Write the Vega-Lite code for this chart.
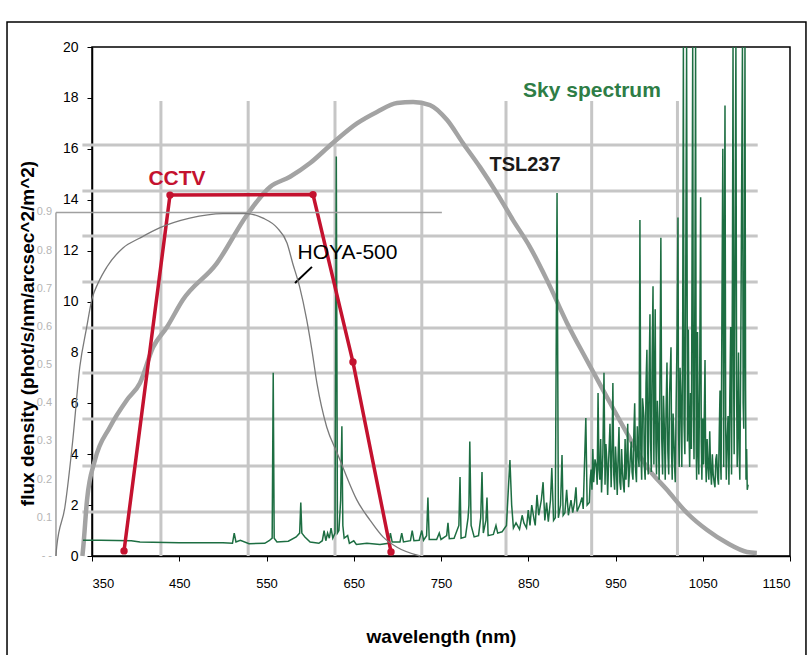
{
  "$schema": "https://vega.github.io/schema/vega-lite/v6.json",
  "width": 698,
  "height": 509,
  "autosize": {"type": "none"},
  "padding": {"left": 92, "top": 47, "right": 22, "bottom": 99},
  "background": "white",
  "config": {"view": {"stroke": "black", "strokeWidth": 1.5}, "font": "Liberation Sans"},
  "datasets": {
    "border": [{"wl": 252.6, "wl2": 1168.3, "flux": -4.1, "flux2": 20.98}],
    "grid": [
      {"wl": 429, "wl2": 429, "flux": 0, "flux2": 17.88},
      {"wl": 529, "wl2": 529, "flux": 0, "flux2": 17.88},
      {"wl": 628.5, "wl2": 628.5, "flux": 0, "flux2": 17.88},
      {"wl": 728, "wl2": 728, "flux": 0, "flux2": 17.88},
      {"wl": 824.5, "wl2": 824.5, "flux": 0, "flux2": 17.88},
      {"wl": 922.7, "wl2": 922.7, "flux": 0, "flux2": 17.88},
      {"wl": 1021, "wl2": 1021, "flux": 0, "flux2": 17.88},
      {"wl": 339, "wl2": 1113, "flux": 1.73, "flux2": 1.73},
      {"wl": 339, "wl2": 1113, "flux": 3.54, "flux2": 3.54},
      {"wl": 339, "wl2": 1113, "flux": 5.38, "flux2": 5.38},
      {"wl": 339, "wl2": 1113, "flux": 7.19, "flux2": 7.19},
      {"wl": 339, "wl2": 1113, "flux": 8.96, "flux2": 8.96},
      {"wl": 339, "wl2": 1113, "flux": 10.77, "flux2": 10.77},
      {"wl": 339, "wl2": 1113, "flux": 12.57, "flux2": 12.57},
      {"wl": 339, "wl2": 1113, "flux": 14.34, "flux2": 14.34},
      {"wl": 339, "wl2": 1113, "flux": 16.15, "flux2": 16.15}
    ],
    "tsl": [
      {"wl": 339, "flux": 0}, {"wl": 340, "flux": 0.35}, {"wl": 344.3, "flux": 2.2}, {"wl": 353.4, "flux": 3.77},
      {"wl": 370.6, "flux": 5.07}, {"wl": 390, "flux": 6.13}, {"wl": 405, "flux": 6.8}, {"wl": 420, "flux": 8.2},
      {"wl": 436, "flux": 9.0}, {"wl": 454, "flux": 10.06}, {"wl": 493, "flux": 11.5}, {"wl": 527.6, "flux": 13.4},
      {"wl": 554, "flux": 14.5}, {"wl": 577, "flux": 14.9}, {"wl": 600, "flux": 15.44}, {"wl": 626, "flux": 16.23},
      {"wl": 653.7, "flux": 17.0}, {"wl": 676.6, "flux": 17.45}, {"wl": 699.6, "flux": 17.8}, {"wl": 718, "flux": 17.84},
      {"wl": 737.4, "flux": 17.72}, {"wl": 757, "flux": 17.13}, {"wl": 775, "flux": 16.23}, {"wl": 794.7, "flux": 15.28},
      {"wl": 814, "flux": 14.26}, {"wl": 832.5, "flux": 13.2}, {"wl": 852, "flux": 12.14}, {"wl": 871.5, "flux": 10.84},
      {"wl": 894.4, "flux": 9.16}, {"wl": 917, "flux": 7.7}, {"wl": 940, "flux": 6.25}, {"wl": 963, "flux": 4.83},
      {"wl": 986, "flux": 3.5}, {"wl": 1009, "flux": 2.6}, {"wl": 1032, "flux": 1.69}, {"wl": 1055, "flux": 1.02},
      {"wl": 1078, "flux": 0.51}, {"wl": 1100.7, "flux": 0.16}, {"wl": 1112, "flux": 0.12}
    ],
    "cctv": [
      {"wl": 386.7, "flux": 0.2}, {"wl": 439.4, "flux": 14.18}, {"wl": 603.3, "flux": 14.2},
      {"wl": 649.1, "flux": 7.62}, {"wl": 692.7, "flux": 0.16}
    ],
    "sky": [
      {"wl": 339.7, "flux": 0.62}, {"wl": 360, "flux": 0.62}, {"wl": 395, "flux": 0.6}, {"wl": 405, "flux": 0.55},
      {"wl": 450, "flux": 0.52}, {"wl": 500, "flux": 0.52}, {"wl": 511, "flux": 0.5}, {"wl": 513, "flux": 0.9},
      {"wl": 515, "flux": 0.55}, {"wl": 520, "flux": 0.62}, {"wl": 530, "flux": 0.48}, {"wl": 548, "flux": 0.5},
      {"wl": 553, "flux": 0.6}, {"wl": 556.5, "flux": 0.7}, {"wl": 557.7, "flux": 7.2}, {"wl": 558.8, "flux": 0.7},
      {"wl": 562, "flux": 0.55}, {"wl": 575, "flux": 0.58}, {"wl": 584, "flux": 0.75}, {"wl": 588, "flux": 0.9},
      {"wl": 589.3, "flux": 2.1}, {"wl": 590.5, "flux": 0.9}, {"wl": 594, "flux": 0.75}, {"wl": 600, "flux": 0.55},
      {"wl": 610, "flux": 0.5}, {"wl": 614, "flux": 0.6}, {"wl": 616, "flux": 1.0}, {"wl": 618, "flux": 0.6},
      {"wl": 620, "flux": 0.9}, {"wl": 622, "flux": 0.7}, {"wl": 624, "flux": 1.1}, {"wl": 626, "flux": 0.7},
      {"wl": 628.5, "flux": 0.9}, {"wl": 630, "flux": 15.7}, {"wl": 631.3, "flux": 0.9}, {"wl": 633, "flux": 1.0},
      {"wl": 635, "flux": 2.2}, {"wl": 636.4, "flux": 5.1}, {"wl": 637.5, "flux": 1.2}, {"wl": 639, "flux": 0.7},
      {"wl": 643, "flux": 0.8}, {"wl": 645, "flux": 0.5}, {"wl": 650, "flux": 0.6}, {"wl": 653, "flux": 0.45},
      {"wl": 665, "flux": 0.5}, {"wl": 680, "flux": 0.45}, {"wl": 690, "flux": 0.5}, {"wl": 692, "flux": 0.9},
      {"wl": 694, "flux": 0.55}, {"wl": 703, "flux": 0.55}, {"wl": 705, "flux": 0.9}, {"wl": 707, "flux": 0.55},
      {"wl": 715, "flux": 0.6}, {"wl": 717, "flux": 1.0}, {"wl": 719, "flux": 0.6}, {"wl": 725, "flux": 0.62},
      {"wl": 728, "flux": 1.0}, {"wl": 730, "flux": 0.62}, {"wl": 733.5, "flux": 0.8}, {"wl": 735, "flux": 2.3},
      {"wl": 736.5, "flux": 0.65}, {"wl": 745, "flux": 0.65}, {"wl": 748, "flux": 0.9}, {"wl": 750, "flux": 0.65},
      {"wl": 756.5, "flux": 0.8}, {"wl": 758, "flux": 1.3}, {"wl": 759.5, "flux": 0.68}, {"wl": 765, "flux": 0.7},
      {"wl": 770.5, "flux": 1.2}, {"wl": 771.8, "flux": 3.1}, {"wl": 773, "flux": 0.7}, {"wl": 778, "flux": 0.75},
      {"wl": 781, "flux": 1.5}, {"wl": 782, "flux": 2.0}, {"wl": 783, "flux": 4.5}, {"wl": 784.5, "flux": 1.2},
      {"wl": 788, "flux": 0.75}, {"wl": 793, "flux": 0.8}, {"wl": 795.5, "flux": 1.5}, {"wl": 797, "flux": 3.3},
      {"wl": 798.5, "flux": 0.9}, {"wl": 801.5, "flux": 1.4}, {"wl": 802.7, "flux": 2.3}, {"wl": 804, "flux": 0.8},
      {"wl": 810, "flux": 0.85}, {"wl": 813, "flux": 1.2}, {"wl": 815, "flux": 0.9}, {"wl": 820, "flux": 0.95},
      {"wl": 825, "flux": 1.2}, {"wl": 827, "flux": 2.5}, {"wl": 829, "flux": 3.77}, {"wl": 831, "flux": 2.0},
      {"wl": 833, "flux": 1.1}, {"wl": 836, "flux": 1.3}, {"wl": 840, "flux": 1.05}, {"wl": 843, "flux": 1.6},
      {"wl": 845, "flux": 1.3}, {"wl": 848, "flux": 1.1}, {"wl": 850, "flux": 1.8}, {"wl": 852, "flux": 1.2},
      {"wl": 854, "flux": 2.0}, {"wl": 856.6, "flux": 1.45}, {"wl": 858, "flux": 1.2}, {"wl": 860, "flux": 2.4},
      {"wl": 862, "flux": 1.6}, {"wl": 865, "flux": 2.2}, {"wl": 867, "flux": 2.9}, {"wl": 869, "flux": 1.4},
      {"wl": 871, "flux": 2.1}, {"wl": 873, "flux": 1.35}, {"wl": 875.5, "flux": 2.2}, {"wl": 877, "flux": 3.46},
      {"wl": 879, "flux": 1.4}, {"wl": 881, "flux": 1.5}, {"wl": 883, "flux": 14.26}, {"wl": 884.5, "flux": 1.5},
      {"wl": 887, "flux": 2.0}, {"wl": 888.7, "flux": 3.97}, {"wl": 890, "flux": 1.6}, {"wl": 892, "flux": 1.7},
      {"wl": 894, "flux": 2.6}, {"wl": 896, "flux": 1.6}, {"wl": 899, "flux": 2.2}, {"wl": 901, "flux": 1.7},
      {"wl": 903, "flux": 2.1}, {"wl": 904.7, "flux": 2.7}, {"wl": 906, "flux": 1.75}, {"wl": 909, "flux": 2.0},
      {"wl": 911.6, "flux": 2.3}, {"wl": 913, "flux": 1.85}, {"wl": 916, "flux": 5.42}, {"wl": 917.5, "flux": 2.0},
      {"wl": 920, "flux": 2.1}, {"wl": 921, "flux": 3.0}, {"wl": 922, "flux": 3.4}, {"wl": 923, "flux": 2.6},
      {"wl": 924, "flux": 4.2}, {"wl": 925, "flux": 2.9}, {"wl": 926.5, "flux": 3.8}, {"wl": 928, "flux": 3.5},
      {"wl": 929, "flux": 2.8}, {"wl": 930, "flux": 6.4}, {"wl": 931, "flux": 3.4}, {"wl": 932, "flux": 3.0},
      {"wl": 933, "flux": 4.6}, {"wl": 934, "flux": 2.5}, {"wl": 935.5, "flux": 4.0}, {"wl": 936.8, "flux": 7.2},
      {"wl": 938, "flux": 2.8}, {"wl": 939, "flux": 4.4}, {"wl": 940, "flux": 3.8}, {"wl": 941, "flux": 2.4},
      {"wl": 942, "flux": 3.6}, {"wl": 943.7, "flux": 5.2}, {"wl": 945, "flux": 2.7}, {"wl": 946, "flux": 4.1},
      {"wl": 947, "flux": 6.8}, {"wl": 948, "flux": 3.2}, {"wl": 949, "flux": 2.6}, {"wl": 950, "flux": 4.3},
      {"wl": 951, "flux": 3.5}, {"wl": 952, "flux": 2.4}, {"wl": 953, "flux": 3.9}, {"wl": 954, "flux": 5.07},
      {"wl": 955, "flux": 2.9}, {"wl": 956, "flux": 2.6}, {"wl": 957, "flux": 4.2}, {"wl": 958, "flux": 3.3},
      {"wl": 959, "flux": 2.8}, {"wl": 960, "flux": 2.5}, {"wl": 961, "flux": 4.6}, {"wl": 962, "flux": 3.0},
      {"wl": 963, "flux": 3.8}, {"wl": 964, "flux": 5.2}, {"wl": 965, "flux": 2.7}, {"wl": 966.5, "flux": 3.6},
      {"wl": 968, "flux": 4.5}, {"wl": 969, "flux": 3.3}, {"wl": 970, "flux": 3.0}, {"wl": 971, "flux": 4.8},
      {"wl": 972, "flux": 6.0}, {"wl": 973, "flux": 3.4}, {"wl": 974, "flux": 2.9}, {"wl": 975, "flux": 5.1},
      {"wl": 976, "flux": 4.0}, {"wl": 977, "flux": 3.5}, {"wl": 978, "flux": 13.2}, {"wl": 979, "flux": 4.2},
      {"wl": 980, "flux": 3.0}, {"wl": 981, "flux": 6.2}, {"wl": 982.5, "flux": 5.5}, {"wl": 983, "flux": 3.6},
      {"wl": 984, "flux": 3.0}, {"wl": 985, "flux": 6.8}, {"wl": 986, "flux": 8.1}, {"wl": 987, "flux": 4.0},
      {"wl": 987.5, "flux": 3.2}, {"wl": 988.5, "flux": 7.0}, {"wl": 989.5, "flux": 9.5}, {"wl": 990.2, "flux": 4.5},
      {"wl": 991, "flux": 3.3}, {"wl": 992, "flux": 7.8}, {"wl": 993, "flux": 10.6}, {"wl": 994, "flux": 3.6},
      {"wl": 995.5, "flux": 9.7}, {"wl": 996.3, "flux": 4.4}, {"wl": 997, "flux": 3.2}, {"wl": 998, "flux": 6.1},
      {"wl": 999, "flux": 5.0}, {"wl": 1000, "flux": 3.0}, {"wl": 1001, "flux": 7.2}, {"wl": 1002, "flux": 12.5},
      {"wl": 1003, "flux": 4.6}, {"wl": 1004, "flux": 3.2}, {"wl": 1005, "flux": 6.3}, {"wl": 1006, "flux": 5.0},
      {"wl": 1007, "flux": 3.0}, {"wl": 1008, "flux": 5.8}, {"wl": 1009, "flux": 7.6}, {"wl": 1010, "flux": 4.1},
      {"wl": 1011, "flux": 3.2}, {"wl": 1012, "flux": 6.4}, {"wl": 1013.6, "flux": 8.2}, {"wl": 1014.3, "flux": 4.0},
      {"wl": 1015, "flux": 3.0}, {"wl": 1016, "flux": 5.6}, {"wl": 1017, "flux": 4.5}, {"wl": 1018, "flux": 3.3},
      {"wl": 1018.5, "flux": 2.9}, {"wl": 1019.5, "flux": 6.0}, {"wl": 1020.5, "flux": 8.4}, {"wl": 1021.6, "flux": 13.3},
      {"wl": 1022.3, "flux": 4.8}, {"wl": 1023, "flux": 3.5}, {"wl": 1024, "flux": 7.4}, {"wl": 1025, "flux": 6.0},
      {"wl": 1026, "flux": 3.5}, {"wl": 1027, "flux": 9.0}, {"wl": 1027.8, "flux": 20}, {"wl": 1028.6, "flux": 5.2},
      {"wl": 1029.5, "flux": 4.0}, {"wl": 1030.5, "flux": 11.0}, {"wl": 1031.5, "flux": 20}, {"wl": 1032.5, "flux": 4.5},
      {"wl": 1033.5, "flux": 8.9}, {"wl": 1034.3, "flux": 4.8}, {"wl": 1035, "flux": 3.5}, {"wl": 1036, "flux": 6.4},
      {"wl": 1037, "flux": 4.2}, {"wl": 1038.5, "flux": 20}, {"wl": 1039.2, "flux": 6.0}, {"wl": 1040, "flux": 3.8},
      {"wl": 1041, "flux": 10.5}, {"wl": 1041.8, "flux": 20}, {"wl": 1042.5, "flux": 4.2}, {"wl": 1043, "flux": 3.0},
      {"wl": 1044, "flux": 8.8}, {"wl": 1044.8, "flux": 4.0}, {"wl": 1045.5, "flux": 3.2}, {"wl": 1046.5, "flux": 7.2},
      {"wl": 1047.6, "flux": 14.1}, {"wl": 1048.3, "flux": 4.5}, {"wl": 1049, "flux": 3.0}, {"wl": 1050, "flux": 5.4},
      {"wl": 1051, "flux": 3.6}, {"wl": 1052.6, "flux": 7.7}, {"wl": 1053.3, "flux": 3.8}, {"wl": 1054, "flux": 2.9},
      {"wl": 1055, "flux": 4.6}, {"wl": 1056, "flux": 3.5}, {"wl": 1057, "flux": 3.0}, {"wl": 1058, "flux": 4.9},
      {"wl": 1059, "flux": 3.4}, {"wl": 1060, "flux": 2.8}, {"wl": 1061, "flux": 4.0}, {"wl": 1062, "flux": 3.2},
      {"wl": 1063, "flux": 2.9}, {"wl": 1064, "flux": 2.7}, {"wl": 1065, "flux": 3.8}, {"wl": 1066, "flux": 4.0},
      {"wl": 1067, "flux": 3.1}, {"wl": 1068, "flux": 2.8}, {"wl": 1069, "flux": 5.0}, {"wl": 1069.8, "flux": 6.5},
      {"wl": 1070.5, "flux": 3.6}, {"wl": 1071, "flux": 3.0}, {"wl": 1072, "flux": 9.8}, {"wl": 1073, "flux": 16.0},
      {"wl": 1074, "flux": 3.5}, {"wl": 1074.8, "flux": 12.0}, {"wl": 1075.5, "flux": 17.7}, {"wl": 1076.3, "flux": 5.0},
      {"wl": 1077, "flux": 3.0}, {"wl": 1078, "flux": 4.6}, {"wl": 1079, "flux": 5.5}, {"wl": 1080, "flux": 2.8},
      {"wl": 1081, "flux": 6.2}, {"wl": 1082, "flux": 9.0}, {"wl": 1083, "flux": 3.2}, {"wl": 1084, "flux": 11.0},
      {"wl": 1084.7, "flux": 20}, {"wl": 1085.4, "flux": 7.0}, {"wl": 1086, "flux": 4.0}, {"wl": 1087, "flux": 12.5},
      {"wl": 1088, "flux": 20}, {"wl": 1088.8, "flux": 6.5}, {"wl": 1089.5, "flux": 3.5}, {"wl": 1090.3, "flux": 5.6},
      {"wl": 1091, "flux": 8.0}, {"wl": 1091.8, "flux": 4.0}, {"wl": 1092.5, "flux": 3.0}, {"wl": 1093.5, "flux": 7.5},
      {"wl": 1094.5, "flux": 14.0}, {"wl": 1095.5, "flux": 20}, {"wl": 1096.3, "flux": 6.0}, {"wl": 1097, "flux": 5.0},
      {"wl": 1097.7, "flux": 10.5}, {"wl": 1098.4, "flux": 20}, {"wl": 1099.1, "flux": 6.5}, {"wl": 1099.6, "flux": 3.0},
      {"wl": 1100.3, "flux": 4.2}, {"wl": 1101, "flux": 2.6}, {"wl": 1102, "flux": 2.8}
    ],
    "hoya": [
      {"wl": 308.7, "T": 0}, {"wl": 309.5, "T": 0.023}, {"wl": 319, "T": 0.129}, {"wl": 328, "T": 0.304},
      {"wl": 336, "T": 0.495}, {"wl": 344, "T": 0.6}, {"wl": 349.7, "T": 0.671}, {"wl": 357, "T": 0.715},
      {"wl": 367, "T": 0.757}, {"wl": 385.5, "T": 0.807}, {"wl": 405, "T": 0.833}, {"wl": 428, "T": 0.86},
      {"wl": 462, "T": 0.885}, {"wl": 500, "T": 0.897}, {"wl": 527.6, "T": 0.897}, {"wl": 546, "T": 0.885},
      {"wl": 562, "T": 0.86}, {"wl": 573.5, "T": 0.82}, {"wl": 580, "T": 0.767}, {"wl": 588, "T": 0.705},
      {"wl": 596, "T": 0.62}, {"wl": 602, "T": 0.54}, {"wl": 608, "T": 0.45}, {"wl": 619, "T": 0.338},
      {"wl": 631, "T": 0.27}, {"wl": 642, "T": 0.207}, {"wl": 653.5, "T": 0.147}, {"wl": 668.6, "T": 0.094},
      {"wl": 683.5, "T": 0.05}, {"wl": 699.6, "T": 0.023}, {"wl": 726, "T": 0.0}
    ],
    "hoyaFrame": [
      {"wl": 308.7, "wl2": 308.7, "T": 0, "T2": 0.9},
      {"wl": 308.7, "wl2": 751, "T": 0.9, "T2": 0.9}
    ],
    "hoyaLabels": [
      {"label": "0.9", "wl": 304.2, "T": 0.9}, {"label": "0.8", "wl": 304.2, "T": 0.8},
      {"label": "0.7", "wl": 304.2, "T": 0.7}, {"label": "0.6", "wl": 304.2, "T": 0.6},
      {"label": "0.5", "wl": 304.2, "T": 0.5}, {"label": "0.4", "wl": 304.2, "T": 0.4},
      {"label": "0.3", "wl": 304.2, "T": 0.3}, {"label": "0.2", "wl": 304.2, "T": 0.2},
      {"label": "0.1", "wl": 304.2, "T": 0.1}, {"label": "- -", "wl": 304.2, "T": 0}
    ]
  },
  "encoding": {
    "x": {
      "field": "wl", "type": "quantitative",
      "scale": {"domain": [350, 1150], "nice": false, "zero": false},
      "axis": {
        "values": [350, 450, 550, 650, 750, 850, 950, 1050, 1150], "format": "d",
        "title": "wavelength (nm)", "grid": false,
        "tickSize": 5, "tickColor": "black", "domainColor": "black", "domainWidth": 1.5,
        "labelFontSize": 13, "labelColor": "black", "labelPadding": 16, "labelFont": "Liberation Sans",
        "titleFontSize": 19, "titleFontWeight": "bold", "titleColor": "black", "titleFont": "Liberation Sans",
        "titleY": 80, "titleBaseline": "middle"
      }
    }
  },
  "layer": [
    {
      "encoding": {
        "y": {
          "field": "flux", "type": "quantitative",
          "scale": {"domain": [0, 20], "nice": false, "zero": false},
          "axis": {
            "values": [0, 2, 4, 6, 8, 10, 12, 14, 16, 18, 20],
            "title": "flux density (phot/s/nm/arcsec^2/m^2)", "grid": false,
            "tickSize": 5, "tickColor": "black", "domainColor": "black", "domainWidth": 1.5,
            "labelFontSize": 14, "labelColor": "black", "labelPadding": 9, "labelFont": "Liberation Sans",
            "titleFontSize": 19, "titleFontWeight": "bold", "titleColor": "black", "titleFont": "Liberation Sans",
            "titleX": -65, "titleY": 286, "titleBaseline": "middle", "titleAlign": "center"
          }
        }
      },
      "layer": [
        {"data": {"name": "border"}, "mark": {"type": "rect", "filled": false, "stroke": "black", "strokeWidth": 1.5},
         "encoding": {"x2": {"field": "wl2"}, "y2": {"field": "flux2"}}},
        {"data": {"name": "grid"}, "mark": {"type": "rule", "color": "#c6c6c6", "strokeWidth": 3},
         "encoding": {"x2": {"field": "wl2"}, "y2": {"field": "flux2"}}},
        {"data": {"name": "tsl"}, "mark": {"type": "line", "color": "#a3a3a3", "strokeWidth": 4.5, "interpolate": "monotone"}, "encoding": {}},
        {"data": {"name": "sky"}, "mark": {"type": "line", "color": "#1d6e42", "strokeWidth": 1.5}, "encoding": {}},
        {"data": {"name": "cctv"}, "mark": {"type": "line", "color": "#c4122f", "strokeWidth": 3.5}, "encoding": {}},
        {"data": {"name": "cctv"}, "mark": {"type": "point", "filled": true, "color": "#c4122f", "size": 55, "opacity": 1}, "encoding": {}},
        {"data": {"values": [{"wl": 582.7, "wl2": 602.1, "flux": 10.73, "flux2": 11.36}]},
         "mark": {"type": "rule", "color": "black", "strokeWidth": 2},
         "encoding": {"x2": {"field": "wl2"}, "y2": {"field": "flux2"}}},
        {"data": {"values": [{"label": "CCTV", "wl": 447.4, "flux": 14.81}]},
         "mark": {"type": "text", "color": "#c4122f", "fontSize": 21, "fontWeight": "bold", "font": "Liberation Sans", "align": "center", "baseline": "middle"},
         "encoding": {"text": {"field": "label"}}},
        {"data": {"values": [{"label": "HOYA-500", "wl": 642.8, "flux": 11.9}]},
         "mark": {"type": "text", "color": "black", "fontSize": 21, "font": "Liberation Sans", "align": "center", "baseline": "middle"},
         "encoding": {"text": {"field": "label"}}},
        {"data": {"values": [{"label": "TSL237", "wl": 846.3, "flux": 15.36}]},
         "mark": {"type": "text", "color": "#1a1a1a", "fontSize": 20, "fontWeight": "bold", "font": "Liberation Sans", "align": "center", "baseline": "middle"},
         "encoding": {"text": {"field": "label"}}},
        {"data": {"values": [{"label": "Sky spectrum", "wl": 923, "flux": 18.27}]},
         "mark": {"type": "text", "color": "#2e7d46", "fontSize": 21, "fontWeight": "bold", "font": "Liberation Sans", "align": "center", "baseline": "middle"},
         "encoding": {"text": {"field": "label"}}}
      ]
    },
    {
      "encoding": {
        "y": {"field": "T", "type": "quantitative", "scale": {"domain": [0, 1.33333], "nice": false, "zero": false}, "axis": null}
      },
      "layer": [
        {"data": {"name": "hoyaFrame"}, "mark": {"type": "rule", "color": "#a0a0a0", "strokeWidth": 1.5},
         "encoding": {"x2": {"field": "wl2"}, "y2": {"field": "T2"}}},
        {"data": {"name": "hoyaLabels"}, "mark": {"type": "text", "color": "#b5b5b5", "fontSize": 11, "font": "Liberation Sans", "align": "right", "baseline": "middle"},
         "encoding": {"text": {"field": "label"}}},
        {"data": {"name": "hoya"}, "mark": {"type": "line", "color": "#7a7a7a", "strokeWidth": 1.3, "interpolate": "monotone"}, "encoding": {}}
      ]
    }
  ],
  "resolve": {"scale": {"y": "independent"}}
}
